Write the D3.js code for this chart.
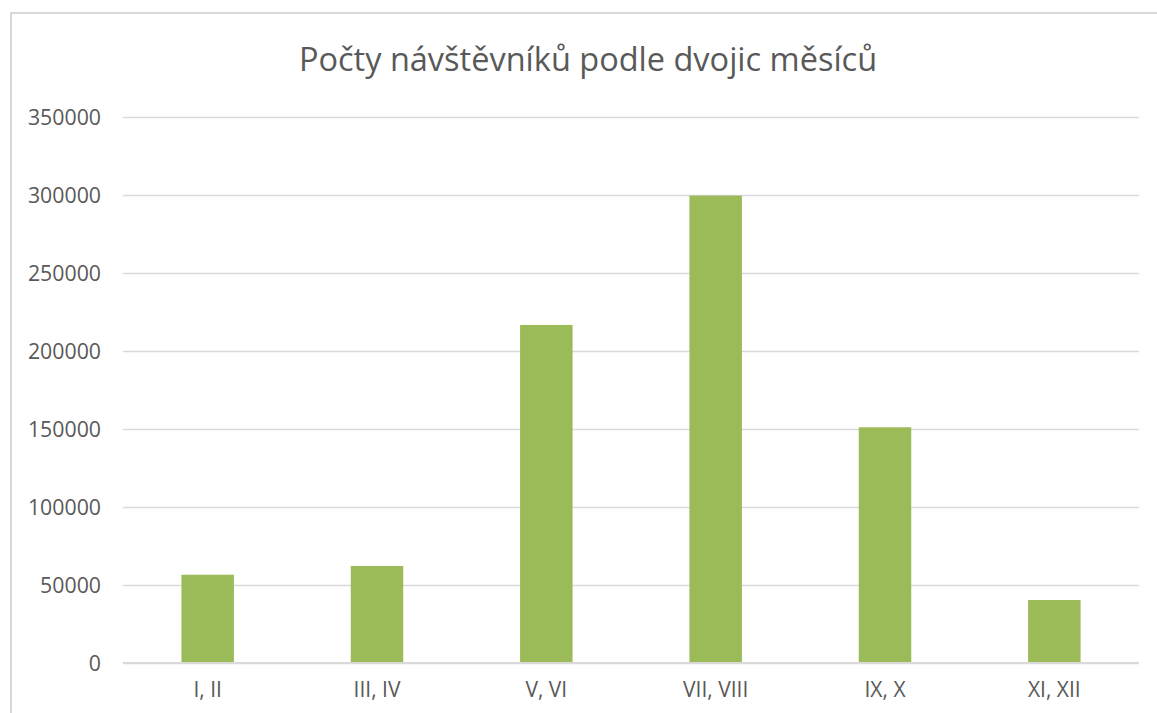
<!DOCTYPE html>
<html>
<head>
<meta charset="utf-8">
<script src="https://cdn.jsdelivr.net/npm/d3@7"></script>
<style>
  body { margin: 0; background: #fff; }
  .axisText { font-family: "Open Sans", sans-serif; fill: #595959; }
</style>
</head>
<body>
<div class="chart"></div>
<script>
var svgWidth = 1157;
var svgHeight = 713;

// data
var categories = ["I, II", "III, IV", "V, VI", "VII, VIII", "IX, X", "XI, XII"];
var visitors = [56600, 62200, 216700, 299600, 151100, 40400];
var yTicks = [0, 50000, 100000, 150000, 200000, 250000, 300000, 350000];
var chartTitle = "Počty návštěvníků podle dvojic měsíců";

var margin = { top: 117, right: 18, bottom: 50, left: 123 };
var width = svgWidth - margin.left - margin.right;
var height = svgHeight - margin.top - margin.bottom;

var svg = d3.select(".chart")
  .append("svg")
  .attr("width", svgWidth)
  .attr("height", svgHeight);

// outer frame of the chart (runs off right and bottom edge)
svg.append("rect")
  .attr("x", 11)
  .attr("y", 13)
  .attr("width", 1300)
  .attr("height", 900)
  .attr("fill", "none")
  .attr("stroke", "#d9d9d9")
  .attr("stroke-width", 2);

svg.append("text")
  .attr("class", "axisText")
  .attr("x", 588)
  .attr("y", 71)
  .attr("text-anchor", "middle")
  .style("font-size", "32.5px")
  .text(chartTitle);

var chart = svg.append("g")
  .attr("transform", "translate(" + margin.left + "," + margin.top + ")");

var xBandScale = d3.scaleBand()
  .domain(categories)
  .range([0, width])
  .paddingInner(0.69)
  .paddingOuter(0.345);

var yLinearScale = d3.scaleLinear()
  .domain([0, 350000])
  .range([height, 0]);

// gridlines
var leftAxis = d3.axisLeft(yLinearScale)
  .tickValues(yTicks)
  .tickSize(-width)
  .tickPadding(22)
  .tickFormat(d3.format("d"));

var yAxis = chart.append("g").call(leftAxis);
yAxis.select(".domain").remove();
yAxis.selectAll("line")
  .attr("stroke", "#d9d9d9")
  .attr("stroke-width", 1.6);
yAxis.selectAll("text")
  .attr("class", "axisText")
  .style("font-size", "21.3px")
  .attr("dy", "0.35em");

chart.selectAll(".bar")
  .data(visitors)
  .enter().append("rect")
    .attr("class", "bar")
    .attr("x", function(d, i) { return xBandScale(categories[i]); })
    .attr("y", function(d) { return yLinearScale(d); })
    .attr("width", xBandScale.bandwidth())
    .attr("height", function(d) { return height - yLinearScale(d); })
    .attr("fill", "#9bbb59");

// baseline
chart.append("line")
  .attr("x1", 0)
  .attr("x2", width)
  .attr("y1", height)
  .attr("y2", height)
  .attr("stroke", "#d9d9d9")
  .attr("stroke-width", 2.2);

var bottomAxis = d3.axisBottom(xBandScale)
  .tickSize(0)
  .tickPadding(19);

var xAxis = chart.append("g")
  .attr("transform", "translate(0," + height + ")")
  .call(bottomAxis);
xAxis.select(".domain").remove();
xAxis.selectAll("text")
  .attr("class", "axisText")
  .style("font-size", "21px");
</script>
</body>
</html>
